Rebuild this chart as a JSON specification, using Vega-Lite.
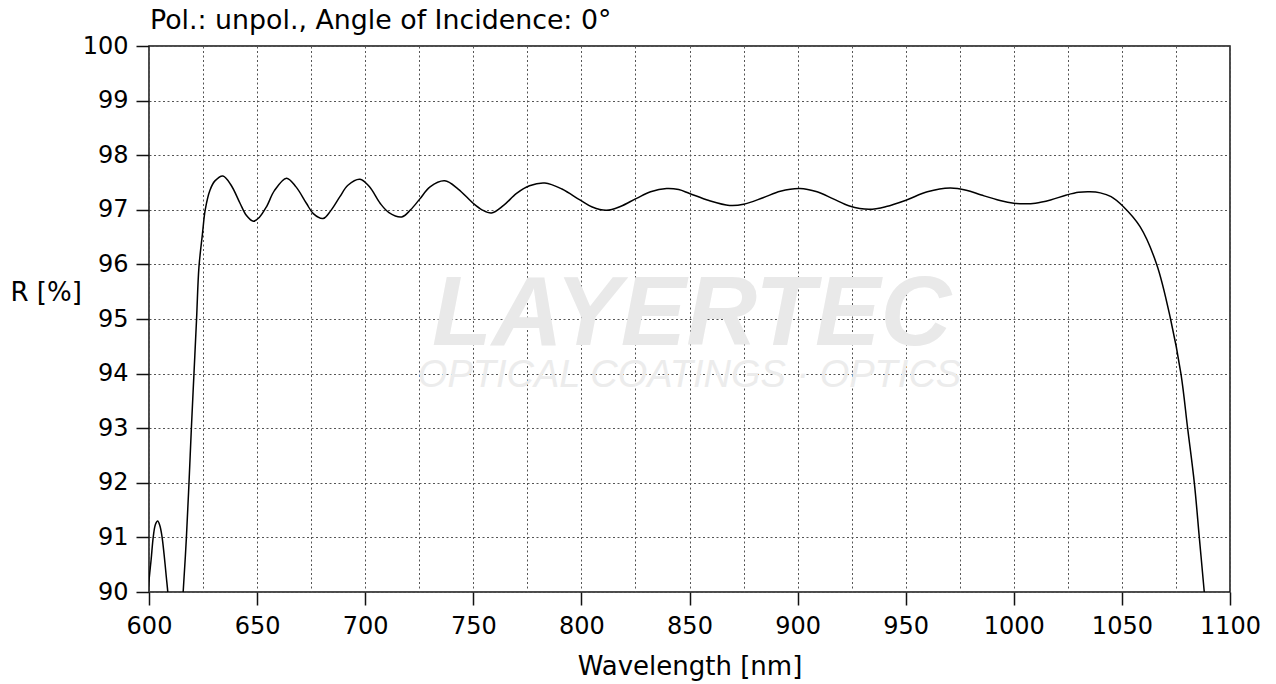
{
  "$schema": "https://vega.github.io/schema/vega-lite/v6.json",
  "width": 1081,
  "height": 546,
  "autosize": {"type": "none"},
  "padding": {"left": 149, "top": 46, "right": 46, "bottom": 92},
  "background": "white",
  "title": {
    "text": "Pol.: unpol., Angle of Incidence: 0°",
    "anchor": "start",
    "frame": "group",
    "font": "DejaVu Sans",
    "fontSize": 26.8,
    "fontWeight": "normal",
    "color": "#000",
    "baseline": "alphabetic",
    "offset": 16,
    "dx": 1,
    "dy": 38
  },
  "config": {
    "font": "DejaVu Sans",
    "view": {"stroke": "#111", "strokeWidth": 1.5},
    "axis": {
      "zindex": 1,
      "domain": false,
      "labelFont": "DejaVu Sans",
      "labelFontSize": 24,
      "labelColor": "#000",
      "titleFont": "DejaVu Sans",
      "titleFontSize": 26,
      "titleFontWeight": "normal",
      "titleColor": "#000",
      "tickColor": "#111",
      "tickWidth": 1.5,
      "tickSize": 13,
      "grid": true,
      "gridColor": "#555",
      "gridDash": [2, 2.5],
      "gridWidth": 1
    }
  },
  "datasets": {
    "curve": [
      {"wl": 599.6, "r": 89.9},
      {"wl": 600, "r": 90.2},
      {"wl": 601, "r": 90.6},
      {"wl": 602, "r": 91.02},
      {"wl": 603, "r": 91.24},
      {"wl": 604, "r": 91.3},
      {"wl": 605, "r": 91.22},
      {"wl": 606, "r": 91.02},
      {"wl": 607, "r": 90.68},
      {"wl": 608, "r": 90.28},
      {"wl": 608.7, "r": 90.0},
      {"wl": 609.5, "r": 89.6},
      {"wl": 612, "r": 88.8},
      {"wl": 614.8, "r": 89.5},
      {"wl": 615.8, "r": 90.0},
      {"wl": 617.3, "r": 91.0},
      {"wl": 618.5, "r": 92.0},
      {"wl": 619.6, "r": 93.0},
      {"wl": 620.8, "r": 94.0},
      {"wl": 622.0, "r": 95.0},
      {"wl": 623.1, "r": 95.95},
      {"wl": 624.7, "r": 96.55},
      {"wl": 626.0, "r": 97.0},
      {"wl": 628.2, "r": 97.36},
      {"wl": 630.5, "r": 97.53},
      {"wl": 634.2, "r": 97.62},
      {"wl": 638, "r": 97.45},
      {"wl": 642.1, "r": 97.12},
      {"wl": 645, "r": 96.9},
      {"wl": 648.3, "r": 96.79},
      {"wl": 651, "r": 96.86},
      {"wl": 654.4, "r": 97.06},
      {"wl": 658, "r": 97.35},
      {"wl": 663.6, "r": 97.58},
      {"wl": 668, "r": 97.42},
      {"wl": 672.8, "r": 97.12},
      {"wl": 676, "r": 96.93},
      {"wl": 680.5, "r": 96.84},
      {"wl": 684, "r": 96.98},
      {"wl": 688.3, "r": 97.24},
      {"wl": 692, "r": 97.45},
      {"wl": 697.6, "r": 97.56},
      {"wl": 702, "r": 97.42},
      {"wl": 706.9, "r": 97.12},
      {"wl": 711, "r": 96.95},
      {"wl": 716.9, "r": 96.87},
      {"wl": 721, "r": 97.0},
      {"wl": 725.3, "r": 97.2},
      {"wl": 730, "r": 97.42},
      {"wl": 736.8, "r": 97.53},
      {"wl": 743, "r": 97.38},
      {"wl": 749.9, "r": 97.12},
      {"wl": 754, "r": 97.0},
      {"wl": 758.4, "r": 96.94},
      {"wl": 764, "r": 97.08},
      {"wl": 770, "r": 97.3},
      {"wl": 776, "r": 97.44},
      {"wl": 783.1, "r": 97.49},
      {"wl": 791, "r": 97.38},
      {"wl": 799.3, "r": 97.18},
      {"wl": 805, "r": 97.05},
      {"wl": 811.6, "r": 96.99},
      {"wl": 818, "r": 97.06},
      {"wl": 825.5, "r": 97.21},
      {"wl": 832, "r": 97.33},
      {"wl": 839.4, "r": 97.39},
      {"wl": 845, "r": 97.37},
      {"wl": 850, "r": 97.3},
      {"wl": 859, "r": 97.17},
      {"wl": 868.5, "r": 97.08},
      {"wl": 875, "r": 97.1},
      {"wl": 884, "r": 97.22},
      {"wl": 892, "r": 97.34},
      {"wl": 901, "r": 97.39},
      {"wl": 909, "r": 97.33},
      {"wl": 916.5, "r": 97.2},
      {"wl": 924, "r": 97.07},
      {"wl": 933, "r": 97.01},
      {"wl": 941, "r": 97.06},
      {"wl": 950.4, "r": 97.18},
      {"wl": 960, "r": 97.33},
      {"wl": 970.5, "r": 97.4},
      {"wl": 978, "r": 97.36},
      {"wl": 985, "r": 97.27},
      {"wl": 993.6, "r": 97.17},
      {"wl": 1000, "r": 97.12},
      {"wl": 1005, "r": 97.11},
      {"wl": 1010, "r": 97.12},
      {"wl": 1017, "r": 97.18},
      {"wl": 1024.4, "r": 97.27},
      {"wl": 1030, "r": 97.32},
      {"wl": 1035.2, "r": 97.33},
      {"wl": 1040, "r": 97.31},
      {"wl": 1045, "r": 97.24},
      {"wl": 1050.6, "r": 97.06},
      {"wl": 1058.4, "r": 96.69},
      {"wl": 1066.1, "r": 96.0},
      {"wl": 1072.5, "r": 95.0},
      {"wl": 1077.3, "r": 94.0},
      {"wl": 1080.4, "r": 93.0},
      {"wl": 1083.5, "r": 92.0},
      {"wl": 1085.8, "r": 91.0},
      {"wl": 1088.1, "r": 90.0},
      {"wl": 1090, "r": 89.1}
    ],
    "logo": [{"label": "LAYERTEC"}],
    "logo2": [{"label": "OPTICAL COATINGS · OPTICS"}]
  },
  "layer": [
    {
      "data": {"name": "logo"},
      "mark": {"type": "text", "font": "Liberation Sans", "fontSize": 98, "fontWeight": "bold", "fontStyle": "italic", "color": "#e9e9e9", "align": "center", "baseline": "alphabetic"},
      "encoding": {
        "x": {"datum": 851, "type": "quantitative"},
        "y": {"datum": 94.52, "type": "quantitative"},
        "text": {"field": "label"}
      }
    },
    {
      "data": {"name": "logo2"},
      "mark": {"type": "text", "font": "Liberation Sans", "fontSize": 38, "fontWeight": 300, "fontStyle": "italic", "color": "#ececec", "align": "center", "baseline": "alphabetic"},
      "encoding": {
        "x": {"datum": 850, "type": "quantitative"},
        "y": {"datum": 93.76, "type": "quantitative"},
        "text": {"field": "label"}
      }
    },
    {
      "data": {"name": "curve"},
      "mark": {"type": "line", "color": "#000", "strokeWidth": 1.5, "interpolate": "catmull-rom", "clip": true},
      "encoding": {
        "x": {
          "field": "wl",
          "type": "quantitative",
          "scale": {"domain": [600, 1100], "nice": false, "zero": false},
          "axis": {
            "title": "Wavelength [nm]",
            "values": [600, 625, 650, 675, 700, 725, 750, 775, 800, 825, 850, 875, 900, 925, 950, 975, 1000, 1025, 1050, 1075, 1100],
            "labelExpr": "datum.value % 50 === 0 ? format(datum.value, 'd') : ''",
            "tickOpacity": {"condition": {"test": "datum.value % 50 === 0", "value": 1}, "value": 0},
            "labelPadding": 9,
            "labelFlush": false,
            "labelOverlap": false,
            "titleY": 82,
            "titleBaseline": "alphabetic"
          }
        },
        "y": {
          "field": "r",
          "type": "quantitative",
          "scale": {"domain": [90, 100], "nice": false, "zero": false},
          "axis": {
            "title": "R [%]",
            "values": [90, 91, 92, 93, 94, 95, 96, 97, 98, 99, 100],
            "labelPadding": 8,
            "titleAngle": 0,
            "titleAlign": "left",
            "titleBaseline": "middle",
            "titleX": -139,
            "titleY": 246
          }
        }
      }
    }
  ]
}
